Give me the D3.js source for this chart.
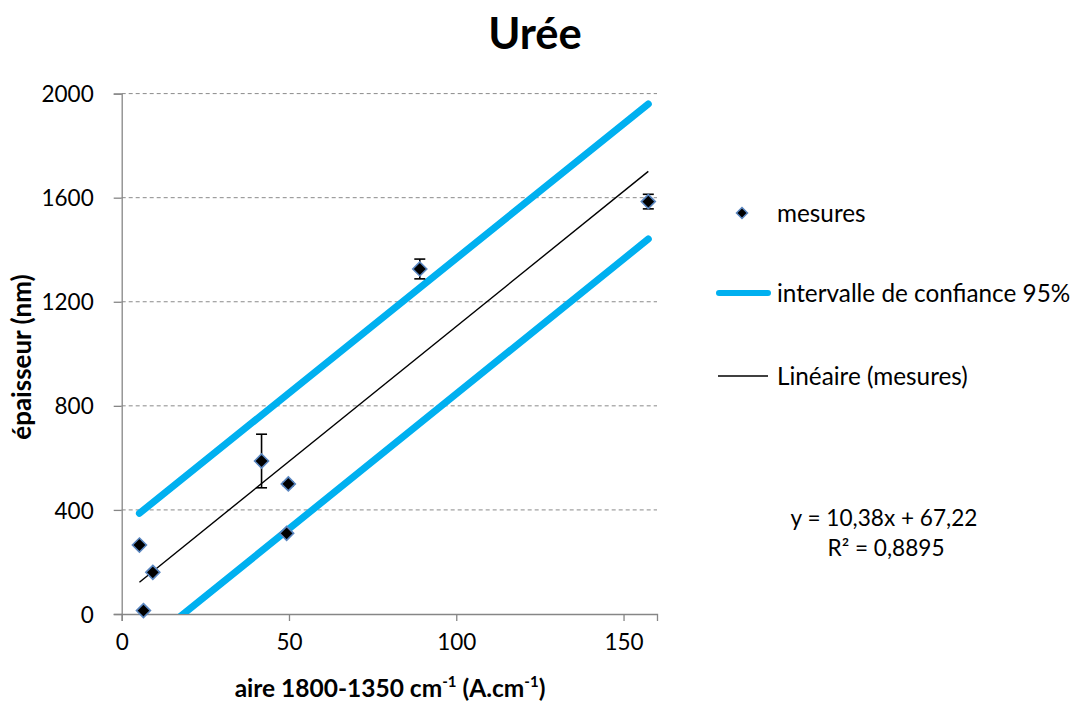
<!DOCTYPE html>
<html>
<head>
<meta charset="utf-8">
<script src="https://cdn.jsdelivr.net/npm/d3@7"></script>
<style>
  html, body { margin: 0; padding: 0; background: #fff; }
  svg { display: block; font-family: Lato, "Open Sans", sans-serif; }
</style>
</head>
<body>
<svg id="chart" width="1075" height="704"></svg>
<script>
// Measurements: area (A.cm-1) vs thickness (nm)
const aire      = [5.3, 6.5, 9.3, 41.8, 49.8, 49.3, 89.1, 157.4];
const epaisseur = [265, 13, 160, 588, 500, 310, 1326, 1585];
const erreur    = [0, 0, 0, 103, 8, 0, 38, 28];

// Least-squares line and 95% confidence band endpoints
const pente = 10.38, ordonnee = 67.22;
const r2 = "0,8895";
const icHaut = [[5.3, 387], [157.4, 1960]];
const icBas  = [[5.3, -136], [157.4, 1441]];

const xTicks = [0, 50, 100, 150];
const yTicks = [0, 400, 800, 1200, 1600, 2000];

const svg = d3.select("#chart");
const x = d3.scaleLinear().domain([0, 160]).range([121.7, 657]);
const y = d3.scaleLinear().domain([0, 2000]).range([614, 93.6]);

const axisColor = "#868686";

// dashed gridlines
svg.append("g")
  .selectAll("line")
  .data(yTicks.filter(d => d > 0))
  .join("line")
  .attr("x1", x(0)).attr("x2", x(160))
  .attr("y1", d => y(d)).attr("y2", d => y(d))
  .attr("stroke", "#8a8a8a").attr("stroke-width", 1)
  .attr("stroke-dasharray", "4,3");

// axes
const yAxis = svg.append("g")
  .attr("transform", `translate(${x(0)},0)`)
  .call(d3.axisLeft(y).tickValues(yTicks).tickSize(8).tickPadding(20).tickFormat(d3.format("d")));
const xAxis = svg.append("g")
  .attr("transform", `translate(0,${y(0)})`)
  .call(d3.axisBottom(x).tickValues(xTicks).tickSize(7).tickPadding(13).tickFormat(d3.format("d")));
[yAxis, xAxis].forEach(g => {
  g.select(".domain").attr("stroke", axisColor).attr("stroke-width", 1.3);
  g.selectAll(".tick line").attr("stroke", axisColor).attr("stroke-width", 1.3);
  g.selectAll(".tick text").attr("fill", "#000").style("font-size", "22.5px").style("font-family", "Lato, sans-serif");
});
yAxis.selectAll(".tick text").attr("dy", "0.36em");

// clip to plot area
svg.append("clipPath").attr("id", "plot")
  .append("rect").attr("x", x(0)).attr("y", y(2000) - 10)
  .attr("width", x(160) - x(0) + 10).attr("height", y(0) - y(2000) + 10);

const line = d3.line().x(d => x(d[0])).y(d => y(d[1]));
const band = svg.append("g").attr("clip-path", "url(#plot)");
[icHaut, icBas].forEach(pts => {
  band.append("path").attr("d", line(pts))
    .attr("fill", "none").attr("stroke", "#00B0F0")
    .attr("stroke-width", 7).attr("stroke-linecap", "round");
});

// trend line
const xmin = d3.min(aire), xmax = d3.max(aire);
svg.append("path")
  .attr("d", line([[xmin, pente * xmin + ordonnee], [xmax, pente * xmax + ordonnee]]))
  .attr("stroke", "#000").attr("stroke-width", 1.4).attr("fill", "none");

// error bars
const pts = aire.map((a, i) => ({ a, e: epaisseur[i], err: erreur[i] }));
const eb = svg.append("g").attr("stroke", "#000").attr("stroke-width", 1.6);
pts.filter(d => d.err > 0).forEach(d => {
  const cx = x(d.a);
  eb.append("line").attr("x1", cx).attr("x2", cx).attr("y1", y(d.e - d.err)).attr("y2", y(d.e + d.err));
  [d.e - d.err, d.e + d.err].forEach(v => {
    eb.append("line").attr("x1", cx - 5.5).attr("x2", cx + 5.5).attr("y1", y(v)).attr("y2", y(v));
  });
});

// diamond markers
const diamond = (cx, cy, r) => `M${cx},${cy - r}L${cx + r},${cy}L${cx},${cy + r}L${cx - r},${cy}Z`;
svg.append("g").selectAll("path").data(pts).join("path")
  .attr("d", d => diamond(x(d.a), y(d.e), 7))
  .attr("fill", "#000").attr("stroke", "#5A86C0").attr("stroke-width", 1.6);

// title
svg.append("text").attr("x", 535).attr("y", 49).attr("text-anchor", "middle")
  .style("font-size", "43.5px").style("font-weight", "bold").text("Urée");

// axis titles
svg.append("text").attr("transform", "translate(31,357) rotate(-90)")
  .attr("text-anchor", "middle").style("font-size", "26px").style("font-weight", "bold")
  .text("épaisseur (nm)");

const xt = svg.append("text").attr("x", 390).attr("y", 697).attr("text-anchor", "middle")
  .style("font-size", "24.5px").style("font-weight", "bold");
xt.append("tspan").text("aire 1800-1350 cm");
xt.append("tspan").attr("dy", -10).style("font-size", "15px").text("-1");
xt.append("tspan").attr("dy", 10).text(" (A.cm");
xt.append("tspan").attr("dy", -10).style("font-size", "15px").text("-1");
xt.append("tspan").attr("dy", 10).text(")");

// legend
const lg = svg.append("g").style("font-size", "24.3px");
lg.append("path").attr("d", diamond(742, 213, 5.5)).attr("fill", "#000").attr("stroke", "#5A86C0").attr("stroke-width", 1.5);
lg.append("text").attr("x", 777).attr("y", 222).text("mesures");
lg.append("line").attr("x1", 719).attr("x2", 768).attr("y1", 293).attr("y2", 293)
  .attr("stroke", "#00B0F0").attr("stroke-width", 6).attr("stroke-linecap", "round");
lg.append("text").attr("x", 777).attr("y", 302).text("intervalle de confiance 95%");
lg.append("line").attr("x1", 718).attr("x2", 768).attr("y1", 376).attr("y2", 376)
  .attr("stroke", "#000").attr("stroke-width", 1.4);
lg.append("text").attr("x", 777).attr("y", 385).text("Linéaire (mesures)");

// regression equation
const fmt = v => String(v).replace(".", ",");
svg.append("text").attr("x", 884).attr("y", 526).attr("text-anchor", "middle").style("font-size", "22.6px")
  .text(`y = ${fmt(pente)}x + ${fmt(ordonnee)}`);
svg.append("text").attr("x", 886).attr("y", 556).attr("text-anchor", "middle").style("font-size", "22.6px")
  .text(`R² = ${r2}`);
</script>
</body>
</html>
